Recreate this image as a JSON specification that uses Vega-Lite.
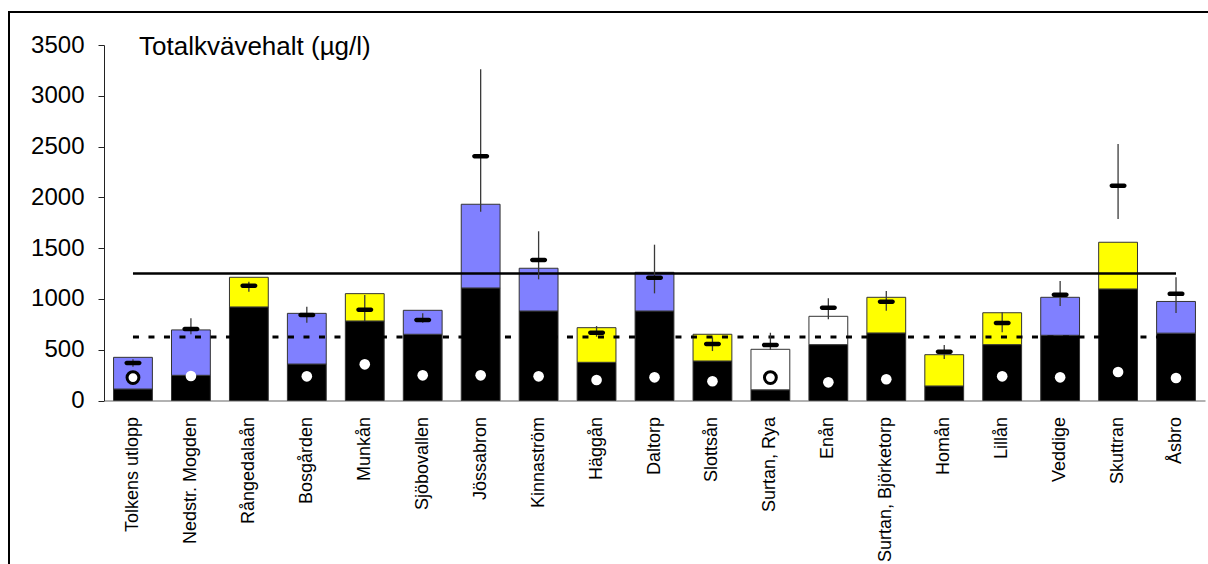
{
  "$schema": "https://vega.github.io/schema/vega-lite/v6.json",
  "width": 1201,
  "height": 554,
  "autosize": {"type": "none"},
  "padding": {"left": 9, "top": 12, "right": -2, "bottom": -2},
  "background": "white",
  "config": {
    "view": {"stroke": "black", "strokeWidth": 2},
    "font": "Liberation Sans"
  },
  "title": {
    "text": "Totalkvävehalt (µg/l)",
    "anchor": "start",
    "frame": "group",
    "orient": "top",
    "dx": 130,
    "offset": -69,
    "baseline": "alphabetic",
    "fontSize": 26,
    "fontWeight": "normal",
    "color": "black",
    "font": "Liberation Sans"
  },
  "datasets": {
    "stationer": [
      {"station": "Tolkens utlopp", "bas": 113, "total": 425, "klass": "blå", "medel": 370, "min": 333, "max": 405, "punkt": 226, "punkttyp": "ring"},
      {"station": "Nedstr. Mogden", "bas": 248, "total": 695, "klass": "blå", "medel": 705, "min": 652, "max": 809, "punkt": 241, "punkttyp": "fylld"},
      {"station": "Rångedalaån", "bas": 921, "total": 1213, "klass": "gul", "medel": 1130, "min": 1071, "max": 1170, "punkt": null, "punkttyp": "fylld"},
      {"station": "Bosgården", "bas": 359, "total": 858, "klass": "blå", "medel": 842, "min": 766, "max": 924, "punkt": 238, "punkttyp": "fylld"},
      {"station": "Munkån", "bas": 783, "total": 1052, "klass": "gul", "medel": 894, "min": 783, "max": 1039, "punkt": 356, "punkttyp": "fylld"},
      {"station": "Sjöbovallen", "bas": 652, "total": 888, "klass": "blå", "medel": 793, "min": 766, "max": 859, "punkt": 248, "punkttyp": "fylld"},
      {"station": "Jössabron", "bas": 1108, "total": 1932, "klass": "blå", "medel": 2405, "min": 1859, "max": 3262, "punkt": 248, "punkttyp": "fylld"},
      {"station": "Kinnaström", "bas": 881, "total": 1302, "klass": "blå", "medel": 1383, "min": 1193, "max": 1666, "punkt": 238, "punkttyp": "fylld"},
      {"station": "Häggån", "bas": 376, "total": 717, "klass": "gul", "medel": 667, "min": 628, "max": 733, "punkt": 202, "punkttyp": "fylld"},
      {"station": "Daltorp", "bas": 881, "total": 1262, "klass": "blå", "medel": 1209, "min": 1055, "max": 1534, "punkt": 228, "punkttyp": "fylld"},
      {"station": "Slottsån", "bas": 389, "total": 652, "klass": "gul", "medel": 556, "min": 487, "max": 622, "punkt": 189, "punkttyp": "fylld"},
      {"station": "Surtan, Rya", "bas": 105, "total": 504, "klass": "vit", "medel": 546, "min": 497, "max": 667, "punkt": 226, "punkttyp": "ring"},
      {"station": "Enån", "bas": 550, "total": 829, "klass": "vit", "medel": 914, "min": 799, "max": 1006, "punkt": 179, "punkttyp": "fylld"},
      {"station": "Surtan, Björketorp", "bas": 665, "total": 1016, "klass": "gul", "medel": 973, "min": 884, "max": 1078, "punkt": 209, "punkttyp": "fylld"},
      {"station": "Homån", "bas": 143, "total": 451, "klass": "gul", "medel": 481, "min": 409, "max": 546, "punkt": null, "punkttyp": "fylld"},
      {"station": "Lillån", "bas": 550, "total": 864, "klass": "gul", "medel": 763, "min": 671, "max": 868, "punkt": 238, "punkttyp": "fylld"},
      {"station": "Veddige", "bas": 642, "total": 1016, "klass": "blå", "medel": 1042, "min": 931, "max": 1177, "punkt": 228, "punkttyp": "fylld"},
      {"station": "Skuttran", "bas": 1098, "total": 1558, "klass": "gul", "medel": 2115, "min": 1787, "max": 2526, "punkt": 281, "punkttyp": "fylld"},
      {"station": "Åsbro", "bas": 663, "total": 975, "klass": "blå", "medel": 1050, "min": 862, "max": 1214, "punkt": 222, "punkttyp": "fylld"}
    ],
    "gränser": [
      {"station": "Tolkens utlopp", "till": "Åsbro", "niva": 1250, "linje": "hel"},
      {"station": "Tolkens utlopp", "till": "Åsbro", "niva": 625, "linje": "streckad"}
    ]
  },
  "layer": [
    {
      "data": {"name": "stationer"},
      "mark": {"type": "bar", "color": "black", "stroke": "#333333", "strokeWidth": 1},
      "encoding": {
        "x": {
          "field": "station",
          "type": "nominal",
          "sort": null,
          "scale": {
            "domain": ["Tolkens utlopp", "Nedstr. Mogden", "Rångedalaån", "Bosgården", "Munkån", "Sjöbovallen", "Jössabron", "Kinnaström", "Häggån", "Daltorp", "Slottsån", "Surtan, Rya", "Enån", "Surtan, Björketorp", "Homån", "Lillån", "Veddige", "Skuttran", "Åsbro"],
            "range": [95, 1196],
            "paddingInner": 0.33,
            "paddingOuter": 0.165
          },
          "axis": {
            "title": null,
            "offset": -165.5,
            "ticks": false,
            "labelAngle": -90,
            "labelFontSize": 18,
            "labelFont": "Liberation Sans",
            "labelColor": "black",
            "labelPadding": 16,
            "labelLimit": 0,
            "labelOverlap": false,
            "domainColor": "#999999",
            "domainWidth": 1.5,
            "grid": false
          }
        },
        "y": {
          "field": "bas",
          "type": "quantitative",
          "scale": {"domain": [0, 3500], "range": [388.5, 33], "nice": false},
          "axis": {
            "title": null,
            "values": [0, 500, 1000, 1500, 2000, 2500, 3000, 3500],
            "format": "d",
            "offset": -95,
            "grid": false,
            "domainColor": "#222222",
            "domainWidth": 1,
            "tickColor": "#222222",
            "tickSize": 6,
            "tickWidth": 1,
            "labelFontSize": 24,
            "labelFont": "Liberation Sans",
            "labelColor": "black",
            "labelPadding": 14,
            "labelFlush": false
          }
        }
      }
    },
    {
      "data": {"name": "stationer"},
      "mark": {"type": "bar", "stroke": "#333333", "strokeWidth": 1},
      "encoding": {
        "x": {"field": "station", "type": "nominal", "sort": null},
        "y": {"field": "bas", "type": "quantitative"},
        "y2": {"field": "total"},
        "fill": {
          "field": "klass",
          "type": "nominal",
          "scale": {"domain": ["blå", "gul", "vit"], "range": ["#8080FF", "#FFFF00", "#FFFFFF"]},
          "legend": null
        }
      }
    },
    {
      "data": {"name": "gränser"},
      "transform": [{"filter": "datum.linje === 'streckad'"}],
      "mark": {"type": "rule", "color": "black", "strokeWidth": 3, "strokeDash": [6, 9.5]},
      "encoding": {
        "x": {"field": "station", "type": "nominal", "sort": null},
        "x2": {"field": "till"},
        "y": {"field": "niva", "type": "quantitative"}
      }
    },
    {
      "data": {"name": "gränser"},
      "transform": [{"filter": "datum.linje === 'hel'"}],
      "mark": {"type": "rule", "color": "black", "strokeWidth": 2.5},
      "encoding": {
        "x": {"field": "station", "type": "nominal", "sort": null},
        "x2": {"field": "till"},
        "y": {"field": "niva", "type": "quantitative"}
      }
    },
    {
      "data": {"name": "stationer"},
      "mark": {"type": "rule", "color": "#3a3a3a", "strokeWidth": 1.3},
      "encoding": {
        "x": {"field": "station", "type": "nominal", "sort": null},
        "y": {"field": "min", "type": "quantitative"},
        "y2": {"field": "max"}
      }
    },
    {
      "data": {"name": "stationer"},
      "mark": {"type": "tick", "color": "black", "size": 17, "thickness": 4.5, "cornerRadius": 2.2, "opacity": 1},
      "encoding": {
        "x": {"field": "station", "type": "nominal", "sort": null},
        "y": {"field": "medel", "type": "quantitative"}
      }
    },
    {
      "data": {"name": "stationer"},
      "mark": {"type": "point", "shape": "circle", "filled": true, "fill": "white", "stroke": "black", "opacity": 1},
      "encoding": {
        "x": {"field": "station", "type": "nominal", "sort": null},
        "y": {"field": "punkt", "type": "quantitative"},
        "size": {
          "field": "punkttyp",
          "type": "nominal",
          "scale": {"domain": ["fylld", "ring"], "range": [113, 140]},
          "legend": null
        },
        "strokeWidth": {
          "field": "punkttyp",
          "type": "nominal",
          "scale": {"domain": ["fylld", "ring"], "range": [0, 3]},
          "legend": null
        }
      }
    }
  ]
}
